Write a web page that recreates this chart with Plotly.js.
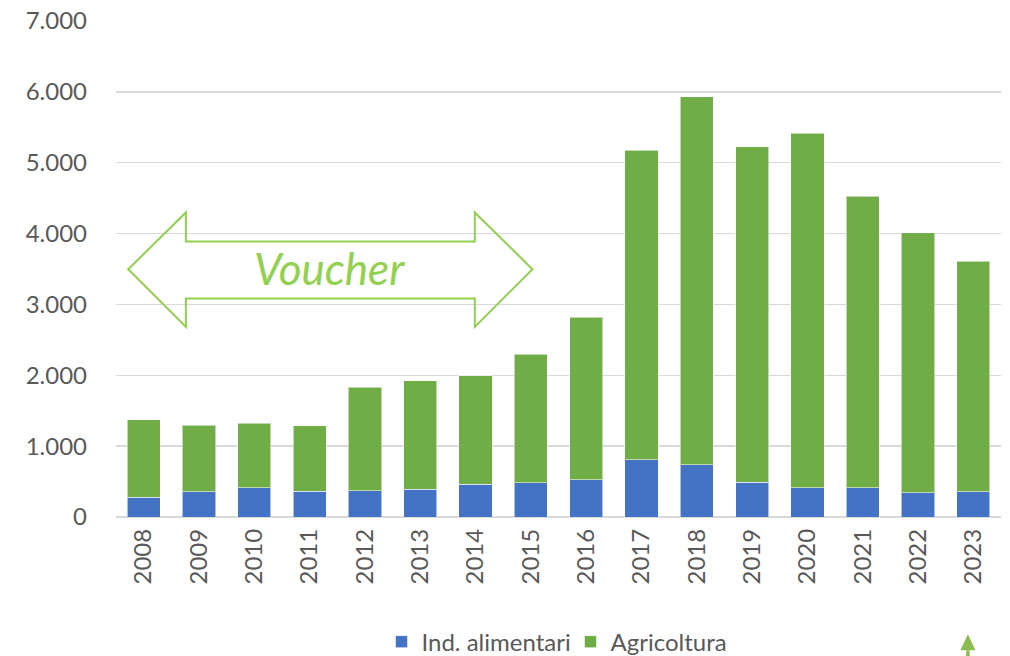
<!DOCTYPE html>
<html>
<head>
<meta charset="utf-8">
<script src="https://cdn.plot.ly/plotly-3.0.1.min.js"></script>
<style>
html,body{margin:0;padding:0;background:#fff;}
#chart{width:1010px;height:656px;}
</style>
</head>
<body>
<div id="chart"></div>
<script>
var years = ['2008','2009','2010','2011','2012','2013','2014','2015','2016','2017','2018','2019','2020','2021','2022','2023'];
var indAlimentari = [282, 353, 415, 367, 373, 395, 462, 480, 528, 811, 740, 494, 415, 415, 345, 359];
var totale = [1376, 1295, 1323, 1285, 1832, 1921, 1992, 2298, 2816, 5175, 5932, 5226, 5415, 4525, 4011, 3612];
var agricoltura = totale.map(function(t, i){ return t - indAlimentari[i]; });
var yTicks = [0, 1000, 2000, 3000, 4000, 5000, 6000, 7000];
var seriesNames = ['Ind. alimentari', 'Agricoltura'];
var voucherLabel = 'Voucher';

var fontFam = 'Lato, "Open Sans", sans-serif';
var barLine = {color: 'rgba(255,255,255,0.55)', width: 1};

var data = [
  {type: 'bar', name: seriesNames[0], x: years, y: indAlimentari,
   marker: {color: '#4472C4', line: barLine}},
  {type: 'bar', name: seriesNames[1], x: years, y: agricoltura,
   marker: {color: '#70AD47', line: barLine}}
];

var arrowColor = '#92D050';
var layout = {
  width: 1010, height: 656,
  margin: {l: 116, r: 9, t: 21, b: 139, pad: 0},
  paper_bgcolor: '#ffffff', plot_bgcolor: '#ffffff',
  separators: ',.',
  barmode: 'stack',
  bargap: 0.4,
  font: {family: fontFam, color: '#595959', size: 24},
  showlegend: true,
  legend: {orientation: 'h', xref: 'paper', x: 0.30, xanchor: 'left',
           yref: 'container', y: 0.0213, yanchor: 'middle',
           font: {family: fontFam, size: 24, color: '#595959'}, traceorder: 'normal',
           entrywidth: 144, entrywidthmode: 'pixels', bgcolor: 'rgba(0,0,0,0)'},
  xaxis: {type: 'category', tickangle: -90, showgrid: false, showline: false, zeroline: false,
          ticks: '', ticklabelstandoff: 6, automargin: false,
          tickfont: {family: fontFam, size: 24, color: '#595959'}},
  yaxis: {range: [0, 7000], tickvals: yTicks, tickformat: ',.0f', showgrid: true, automargin: false,
          gridcolor: '#D9D9D9', gridwidth: 1.3, zeroline: true, zerolinecolor: '#D9D9D9', zerolinewidth: 1.3,
          showline: false, ticks: '', ticklabelstandoff: 28,
          tickfont: {family: fontFam, size: 24, color: '#595959'}},
  shapes: [
    {type: 'path', xref: 'paper', yref: 'paper',
     path: 'M 0.0138,0.4996 L 0.079,0.614 L 0.079,0.5555 L 0.4054,0.5555 L 0.4054,0.614 L 0.4706,0.4996 L 0.4054,0.3832 L 0.4054,0.4405 L 0.079,0.4405 L 0.079,0.3832 Z',
     line: {color: arrowColor, width: 2}, fillcolor: 'rgba(0,0,0,0)'},
    {type: 'path', xref: 'paper', yref: 'paper',
     path: 'M 0.9626,-0.2366 L 0.9711,-0.2689 L 0.9541,-0.2689 Z',
     line: {color: '#8DBB4E', width: 0}, fillcolor: '#8DBB4E'},
    {type: 'line', xref: 'paper', yref: 'paper', x0: 0.9626, x1: 0.9626, y0: -0.2689, y1: -0.285,
     line: {color: '#8DBB4E', width: 3.5}}
  ],
  annotations: [
    {xref: 'paper', yref: 'paper', x: 0.2416, y: 0.503, xanchor: 'center', yanchor: 'middle',
     text: voucherLabel, showarrow: false,
     font: {family: fontFam, size: 44, color: arrowColor, style: 'italic'}}
  ]
};

Plotly.newPlot('chart', data, layout, {displayModeBar: false, staticPlot: true});
</script>
</body>
</html>
